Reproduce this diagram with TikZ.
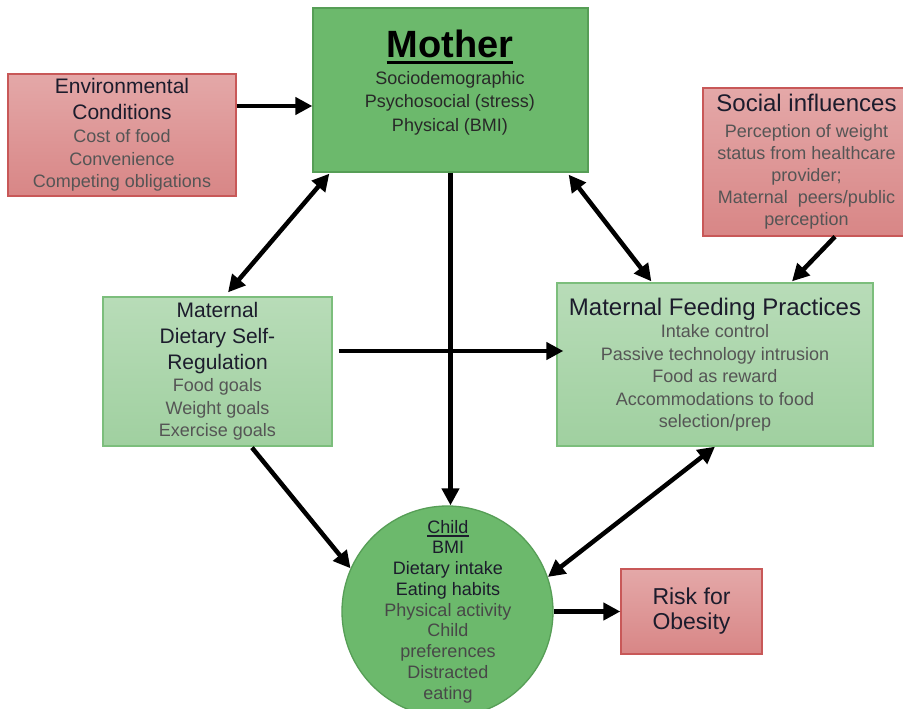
\documentclass[tikz,border=0pt]{standalone}
\usepackage{fontspec}
\setmainfont{Liberation Sans}
\usetikzlibrary{arrows.meta}
\definecolor{hdark}{RGB}{28,28,44}
\definecolor{subgray}{RGB}{85,85,85}
\definecolor{redtop}{RGB}{228,168,168}
\definecolor{redbot}{RGB}{216,134,134}
\definecolor{redline}{RGB}{200,88,88}
\definecolor{mgreen}{RGB}{108,185,108}
\definecolor{mgreenline}{RGB}{86,158,86}
\definecolor{lgtop}{RGB}{184,220,184}
\definecolor{lgbot}{RGB}{160,208,160}
\definecolor{lgline}{RGB}{124,190,124}
\newcommand\hd[2]{{\fontsize{#1}{#1}\selectfont\color{hdark}#2}}
\newcommand\myul[3]{\leavevmode\vtop{\hbox{#1}\kern#2\hrule height #3}}
\tikzset{
  boxbase/.style={inner sep=0pt, align=center, text=subgray,
    font=\fontsize{18}{22.5}\selectfont},
  redbox/.style={boxbase, rectangle, draw=redline, line width=1.3pt, top color=redtop, bottom color=redbot},
  lgbox/.style={boxbase, rectangle, draw=lgline, line width=1.3pt, top color=lgtop, bottom color=lgbot},
  conn/.style={line width=4.5pt, -{Triangle[length=17pt,width=17pt]}},
  dconn/.style={line width=4.5pt, {Triangle[length=17pt,width=17pt]}-{Triangle[length=17pt,width=17pt]}}
}
\begin{document}
\begin{tikzpicture}[x=1pt,y=-1pt]
\fill[white] (0,0) rectangle (903,709);
\useasboundingbox (0,0) rectangle (903,709);

% boxes
\node[redbox, minimum width=228pt, minimum height=122pt] (env) at (122,135)
  {\hd{21}{Environmental}\\[3pt]\hd{21}{Conditions}\\[1pt]Cost of food\\Convenience\\Competing obligations};

\node[rectangle, draw=mgreenline, line width=1.3pt, fill=mgreen, minimum width=275pt, minimum height=164pt] (mother) at (450.5,90) {};
\node[inner sep=0pt, anchor=base, text=black, font=\fontsize{38}{38}\selectfont\bfseries] (mtitle) at (450,58) {\myul{Mother}{2.5pt}{3pt}};
\node[inner sep=0pt, align=center, text={rgb,255:red,40;green,40;blue,40}, font=\fontsize{18}{23.5}\selectfont] (msub) at (450,103)
  {Sociodemographic\\Psychosocial (stress)\\Physical (BMI)};

\node[redbox, minimum width=207pt, minimum height=148pt, font=\fontsize{18}{22}\selectfont] (social) at (806.5,162)
  {\hd{24}{Social influences}\\[4pt]Perception of weight\\status from healthcare\\provider;\\Maternal\ \ peers/public\\perception};

\node[lgbox, minimum width=229pt, minimum height=149pt] (diet) at (217.5,371.5)
  {\hd{21}{Maternal}\\[4pt]\hd{21}{Dietary Self-}\\[3pt]\hd{21}{Regulation}\\Food goals\\Weight goals\\Exercise goals};

\node[lgbox, minimum width=316pt, minimum height=163pt] (feed) at (715,364.5)
  {\hd{24}{Maternal Feeding Practices}\\Intake control\\Passive technology intrusion\\Food as reward\\Accommodations to food\\selection/prep};

\node[redbox, minimum width=141pt, minimum height=85pt, text=hdark, font=\fontsize{23}{25}\selectfont] (risk) at (691.5,611.5)
  {Risk for\\Obesity};

\node[circle, draw=mgreenline, line width=1.3pt, fill=mgreen, minimum size=211pt, inner sep=0pt] (child) at (447.5,611.5) {};
\node[inner sep=0pt, align=center,
  text={rgb,255:red,72;green,72;blue,72}, font=\fontsize{18}{20.75}\selectfont] (childtext) at (448,611.5)
  {{\color{hdark}\myul{Child}{2pt}{1.2pt}}\\{\color{hdark}BMI}\\{\color{hdark}Dietary intake}\\{\color{hdark}Eating habits}\\Physical activity\\Child\\preferences\\Distracted\\eating};

% connectors
\draw[conn] ([yshift=29pt]env.east) -- ([yshift=-16pt]mother.west);
\draw[dconn] ([xshift=17pt,yshift=-1pt]mother.south west) -- ([xshift=10.5pt,yshift=4pt]diet.north);
\draw[conn] (mother.south) -- (mother.south |- child.north);
\draw[dconn] ([xshift=-20pt,yshift=-2pt]mother.south east) -- ([xshift=95pt,yshift=1pt]feed.north west);
\draw[conn] ([xshift=28.5pt]social.south) -- ([xshift=77pt,yshift=1pt]feed.north);
\draw[conn] ([xshift=6pt,yshift=20.5pt]diet.east) -- ([xshift=7pt,yshift=13.5pt]feed.west);
\draw[conn] ([xshift=34.5pt,yshift=-1pt]diet.south) -- (child.156);
\draw[dconn] (feed.south) -- (child.19);
\draw[conn] (child.east) -- (risk.west);
\end{tikzpicture}
\end{document}
